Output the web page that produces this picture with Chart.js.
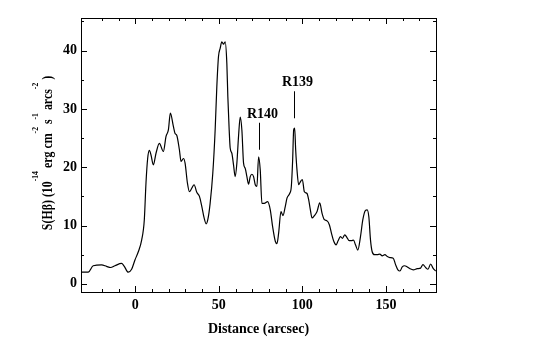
<!DOCTYPE html>
<html><head><meta charset="utf-8">
<script src="https://cdn.jsdelivr.net/npm/chart.js@4"></script>
<style>html,body{margin:0;padding:0;background:#fff;}canvas{display:block;}</style>
</head><body>
<canvas id="c" width="545" height="346"></canvas>
<script>
const distance = [-32.6,-28.2,-25.2,-20.2,-17.2,-14.8,-12.2,-8.2,-6.8,-4.2,-2.2,-0.2,1.8,3.8,5.4,6.4,7.4,8.4,9.4,10.8,12.4,14.4,16.8,18.4,19.8,21.0,22.8,23.8,24.8,26.4,27.4,28.8,29.8,31.2,32.4,33.8,35.2,36.8,38.4,39.8,41.2,42.4,43.4,44.8,46.4,47.8,48.8,49.8,50.8,51.8,52.8,53.8,54.8,55.4,56.2,56.8,57.8,58.8,59.8,60.8,61.8,62.8,63.8,64.8,65.8,66.8,67.8,68.8,69.8,70.8,71.8,72.8,73.8,74.8,75.8,77.2,79.2,80.8,82.2,83.8,84.8,85.8,87.2,88.4,89.8,90.8,92.4,93.4,94.2,94.8,95.4,96.0,96.8,97.8,98.8,100.0,101.2,102.8,103.8,104.8,105.8,107.2,108.8,110.4,111.8,113.2,114.8,116.2,117.4,118.8,120.2,121.4,122.8,124.0,125.4,126.8,128.0,129.4,130.6,131.8,133.2,134.8,136.2,137.8,138.8,139.8,140.8,141.8,143.2,144.8,146.4,147.8,149.4,150.8,152.4,154.4,155.8,157.2,158.4,159.8,161.2,162.8,164.4,166.4,168.8,170.8,172.2,173.8,175.2,176.8,178.2,179.8];
const brightness = [2.0,2.0,3.1,3.25,3.0,2.8,3.1,3.5,3.1,2.0,2.5,4.1,5.5,7.5,11,17.3,21.5,22.9,22.1,20.4,22.4,24.1,22.7,25.3,26.4,29.3,27.0,25.8,25.5,23.0,21.0,21.5,20.7,17.3,15.8,16.4,17.0,15.7,15.0,13.3,11.3,10.3,11.0,13.8,19.0,26.4,33.8,39.0,40.4,41.5,41.1,41.5,37.8,32.1,26.4,23.3,22.4,20.4,18.4,20.7,25.3,28.6,26.4,20.7,19.8,18.4,17.1,18.4,18.8,18.4,17.0,16.7,21.8,19.5,13.8,13.8,14.1,12.7,9.8,7.3,6.9,8.7,12.4,11.7,13.3,14.7,15.5,16.7,21.3,26.4,26.7,23.0,19.5,17.0,17.5,17.9,15.8,15.5,14.4,12.7,11.3,11.7,12.4,13.9,12.1,11.0,10.8,10.1,8.7,7.3,6.7,7.4,8.1,7.8,8.4,7.9,7.4,7.4,7.5,6.7,5.8,8.1,11,12.6,12.7,11.5,7.5,5.5,5.0,5.0,5.1,4.8,5.0,4.7,4.5,4.4,3.3,2.4,2.2,2.9,3.1,2.9,2.6,2.4,2.6,2.7,3.3,2.8,2.5,3.4,2.7,2.2];
const xTickLabels = [0, 50, 100, 150];
const yTickLabels = [0, 10, 20, 30, 40];
const xMinorTicks = [-20, -10, 10, 20, 30, 40, 60, 70, 80, 90, 110, 120, 130, 140, 160, 170];
const yMinorTicks = [5, 15, 25, 35, 45];
const annotNames = ['R140', 'R139'];
const annotX = [73.8, 95.2];
const annotBase = [23.0, 28.4];
const xTitle = 'Distance (arcsec)';
const yTitleParts = [['S(H\u03B2) (10',0],['-14',1],[' erg cm',0],['-2',1],[' s',0],['-1',1],[' arcs',0],['-2',1],[' )',0]];

const FONT = '"Liberation Serif", "Times New Roman", serif';
const points = distance.map((d, i) => ({x: d, y: brightness[i]}));
const allTicks = (maj, min) => maj.concat(min).sort((a, b) => a - b).map(v => ({value: v}));

const deco = {
  id: 'deco',
  afterDraw(chart) {
    const ctx = chart.ctx;
    const {left, right, top, bottom} = chart.chartArea;
    const xs = chart.scales.x, ys = chart.scales.y;
    ctx.save();
    ctx.strokeStyle = '#000';
    ctx.lineWidth = 1;
    xs.ticks.forEach(t => {
      const v = t.value;
      const p = Math.round(xs.getPixelForValue(v)) + 0.5;
      const len = xTickLabels.includes(v) ? 6 : 3;
      ctx.beginPath();
      ctx.moveTo(p, bottom); ctx.lineTo(p, bottom - len);
      ctx.moveTo(p, top); ctx.lineTo(p, top + len);
      ctx.stroke();
    });
    ys.ticks.forEach(t => {
      const v = t.value;
      const p = Math.round(ys.getPixelForValue(v)) + 0.5;
      const len = yTickLabels.includes(v) ? 6 : 3;
      ctx.beginPath();
      ctx.moveTo(left, p); ctx.lineTo(left + len, p);
      ctx.moveTo(right, p); ctx.lineTo(right - len, p);
      ctx.stroke();
    });
    ctx.strokeRect(Math.round(left) + 0.5, Math.round(top) + 0.5, Math.round(right - left), Math.round(bottom - top));
    ctx.fillStyle = '#000';
    ctx.font = 'bold 14px ' + FONT;
    ctx.textAlign = 'center';
    ctx.textBaseline = 'alphabetic';
    annotNames.forEach((name, i) => {
      const px = Math.round(xs.getPixelForValue(annotX[i])) + 0.5;
      const yb = ys.getPixelForValue(annotBase[i]);
      ctx.beginPath();
      ctx.moveTo(px, yb); ctx.lineTo(px, yb - 27);
      ctx.stroke();
      ctx.fillText(name, px + 3, yb - 32);
    });
    ctx.translate(52, 153);
    ctx.rotate(-Math.PI / 2);
    ctx.scale(0.85, 1);
    ctx.textAlign = 'left';
    const mainF = 'bold 14px ' + FONT, supF = 'bold 9px ' + FONT;
    let total = 0;
    yTitleParts.forEach(([t, s]) => { ctx.font = s ? supF : mainF; total += ctx.measureText(t).width; });
    let x = -total / 2;
    yTitleParts.forEach(([t, s]) => {
      ctx.font = s ? supF : mainF;
      ctx.fillText(t, x, s ? -14 : 0);
      x += ctx.measureText(t).width;
    });
    ctx.restore();
  }
};

new Chart(document.getElementById('c'), {
  type: 'line',
  data: {
    datasets: [{
      data: points,
      borderColor: '#000',
      borderWidth: 1.2,
      pointRadius: 0,
      fill: false,
      cubicInterpolationMode: 'monotone'
    }]
  },
  options: {
    responsive: false,
    animation: false,
    devicePixelRatio: 1,
    layout: {padding: {left: 0, right: 109, top: 18, bottom: 0}},
    plugins: {legend: {display: false}, tooltip: {enabled: false}},
    scales: {
      x: {
        type: 'linear', min: -32.5, max: 180,
        afterBuildTicks: s => { s.ticks = allTicks(xTickLabels, xMinorTicks); },
        afterFit: s => { s.height = 54; },
        border: {display: false},
        grid: {display: false, drawTicks: false},
        ticks: {
          autoSkip: false, maxRotation: 0, padding: 5,
          color: '#000', font: {family: FONT, size: 14, weight: 'bold'},
          callback: v => xTickLabels.includes(v) ? String(v) : ''
        },
        title: {display: true, text: xTitle, color: '#000',
          font: {family: FONT, size: 14, weight: 'bold'}, padding: {top: 0, bottom: 8}}
      },
      y: {
        type: 'linear', min: -1.4, max: 45.6,
        afterBuildTicks: s => { s.ticks = allTicks(yTickLabels, yMinorTicks); },
        afterFit: s => { s.width = 81; },
        border: {display: false},
        grid: {display: false, drawTicks: false},
        ticks: {
          autoSkip: false, padding: 4,
          color: '#000', font: {family: FONT, size: 14, weight: 'bold'},
          callback: v => yTickLabels.includes(v) ? String(v) : ''
        }
      }
    }
  },
  plugins: [deco]
});
</script>
</body></html>
